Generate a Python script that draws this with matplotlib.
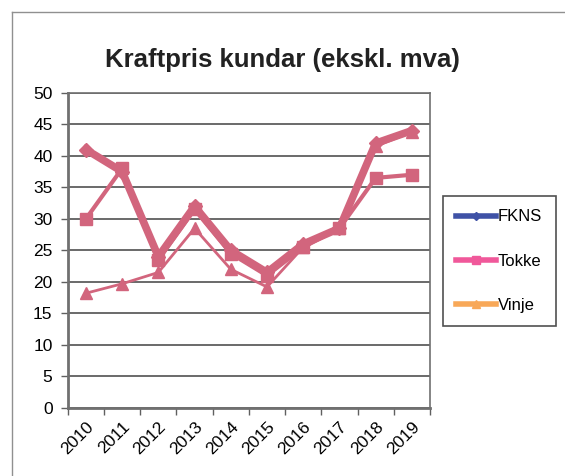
import matplotlib
matplotlib.use("Agg")
import matplotlib.pyplot as plt
from matplotlib.lines import Line2D
import numpy as np

plt.rcParams['font.family'] = ['Liberation Sans', 'DejaVu Sans']

years = ['2010', '2011', '2012', '2013', '2014', '2015', '2016', '2017', '2018', '2019']
fkns = [41, 37.5, 24, 32, 25, 21.5, 26, 28.5, 42, 44]
tokke = [30, 38, 23.5, 31.5, 24.5, 21, 25.5, 28.5, 36.5, 37]
vinje = [18.2, 19.7, 21.5, 28.5, 22, 19.2, 25.5, 28.5, 41.5, 43.8]

line_col = '#d2657d'

fig = plt.figure(figsize=(5.65, 4.76), dpi=100)
ax = fig.add_axes([0.120, 0.143, 0.641, 0.662])

x = np.arange(len(years)) + 0.5
ax.plot(x, fkns, color=line_col, lw=5.5, marker='D', ms=7, zorder=5)
ax.plot(x, tokke, color=line_col, lw=3, marker='s', ms=8, zorder=4)
ax.plot(x, vinje, color=line_col, lw=2, marker='^', ms=8, zorder=3)

ax.set_xlim(0, len(years))
ax.set_ylim(0, 50)
ax.set_yticks(np.arange(0, 51, 5))
ax.yaxis.grid(True, color='#505050', lw=1.2)
ax.set_axisbelow(True)
ax.tick_params(axis='y', length=5, width=1, color='#606060', labelsize=12.5, pad=6)

ax.set_xticks(np.arange(0, len(years) + 1))
ax.set_xticklabels([])
ax.set_xticks(x, minor=True)
ax.set_xticklabels(years, minor=True, rotation=45, ha='right', rotation_mode='anchor', fontsize=12.5)
ax.tick_params(axis='x', which='major', length=5, width=1, color='#606060')
ax.tick_params(axis='x', which='minor', length=0, pad=8)

for s in ax.spines.values():
    s.set_color('#707070')
    s.set_linewidth(1.2)
ax.spines['left'].set_linewidth(2)
ax.spines['bottom'].set_linewidth(2)

fig.text(0.5, 0.873, 'Kraftpris kundar (ekskl. mva)', ha='center', va='center',
         fontsize=18.5, fontweight='bold', color='#222222')

handles = [
    Line2D([], [], color='#3f52a6', lw=4, marker='D', ms=4, label='FKNS'),
    Line2D([], [], color='#f0589a', lw=4, marker='s', ms=6, label='Tokke'),
    Line2D([], [], color='#f8a858', lw=4, marker='^', ms=6, label='Vinje'),
]
leg = fig.legend(handles=handles, loc='upper left', bbox_to_anchor=(0.784, 0.588),
                 fontsize=12, handlelength=2.4, handletextpad=0.1, labelspacing=1.75,
                 borderpad=0.8, borderaxespad=0, fancybox=False, framealpha=1,
                 edgecolor='#505050')
leg.get_frame().set_linewidth(1.2)

fig.add_artist(Line2D([0.021, 1.0], [0.975, 0.975], color='#909090', lw=1, transform=fig.transFigure))
fig.add_artist(Line2D([0.021, 0.021], [0.0, 0.975], color='#909090', lw=1, transform=fig.transFigure))

fig.savefig('out.png', dpi=100)
